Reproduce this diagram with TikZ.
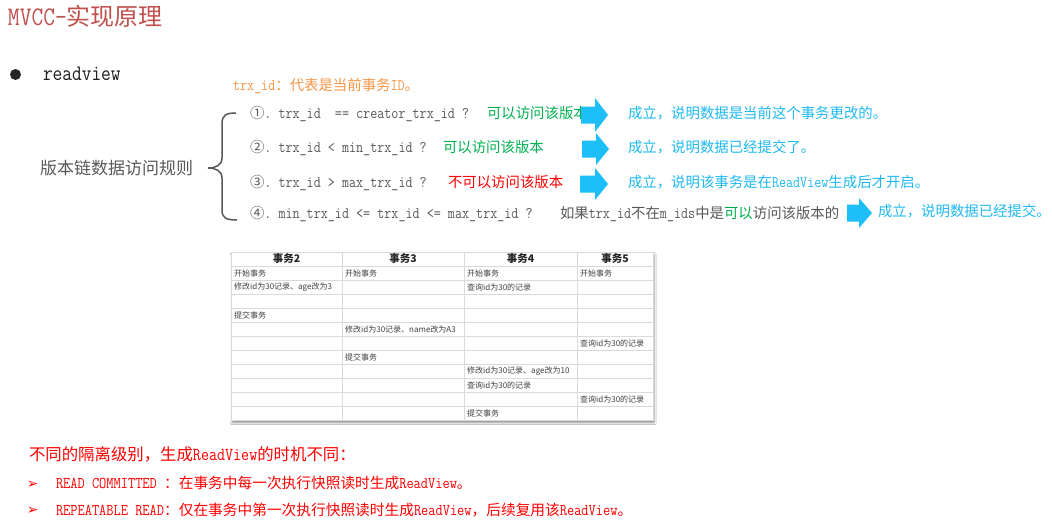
\documentclass[tikz,border=0pt]{standalone}
\usepackage{fontspec}
\setmainfont{Noto Sans CJK SC}
\newfontfamily\mono[Scale=1.12, FakeStretch=0.85]{Latin Modern Mono}
\newfontfamily\dejavu{DejaVu Sans}
\usetikzlibrary{shadows,shadows.blur,calc}
\definecolor{titlered}{RGB}{192,80,77}
\definecolor{orng}{RGB}{247,150,70}
\definecolor{gtxt}{RGB}{89,89,89}
\definecolor{grn}{RGB}{0,176,80}
\definecolor{rd}{RGB}{255,0,0}
\definecolor{blu}{RGB}{30,185,240}
\definecolor{arr}{RGB}{30,190,248}
\definecolor{gridc}{RGB}{218,218,218}
\definecolor{celltxt}{RGB}{64,64,64}
\newcommand\fs[1]{\fontsize{#1}{#1}\selectfont}
\newcommand\barrow[4]{% left x, center y, length, half height
  \fill[arr] (#1,#2-8.5) -- (#1+#3-13,#2-8.5) -- (#1+#3-13,#2-#4) -- (#1+#3,#2)
     -- (#1+#3-13,#2+#4) -- (#1+#3-13,#2+8.5) -- (#1,#2+8.5) -- cycle;}
\begin{document}
\begin{tikzpicture}[x=1pt,y=-1pt,
  txt/.style={inner sep=0pt, outer sep=0pt, anchor=base west},
  cell/.style={inner sep=0pt, anchor=west, font=\fs{8}, text=celltxt},
  headc/.style={inner sep=0pt, anchor=center, font=\fs{10.5}\bfseries, text=black!85}]
\useasboundingbox (0,0) rectangle (1052,522);
\fill[white] (0,0) rectangle (1052,522);

% title
\node[txt, text=titlered, font=\fs{24}] (title) at (8,25) {{\mono MVCC-}实现原理};
% bullet
\node[circle, fill=black!85, minimum size=11pt, inner sep=0pt] (bul) at (15.5,74.5) {};
\node[txt, font=\fs{19.8}\mono, text=black!88] (rv) at (43,80) {readview};

% trx_id line
\node[txt, text=orng, font=\fs{14.4}] (trx) at (233,90) {{\mono trx\_id}：代表是当前事务{\mono ID}。};

% rules label and brace
\node[txt, text=gtxt, font=\fs{17}] (rules) at (40,174.5) {版本链数据访问规则};
\draw[gtxt, line width=1.5pt] (236,113) .. controls (226,113) and (222,115) .. (222,124)
  -- (222,158) .. controls (222,165) and (216,168) .. (208,168)
  .. controls (216,168) and (222,171) .. (222,178)
  -- (222,210) .. controls (222,218) and (226,220) .. (237,220);

% line 1
\node[txt, text=gtxt, font=\fs{14.4}] (l1a) at (250,118) {①{\mono .~trx\_id~~==~creator\_trx\_id~?}};
\node[txt, text=grn, font=\fs{14.4}] (l1b) at (487,118) {可以访问该版本};
\node[txt, text=blu, font=\fs{14.4}] (l1c) at (628,118) {成立，说明数据是当前这个事务更改的。};
% line 2
\node[txt, text=gtxt, font=\fs{14.4}] (l2a) at (250,152) {②{\mono .~trx\_id~<~min\_trx\_id~?}};
\node[txt, text=grn, font=\fs{14.4}] (l2b) at (443,152) {可以访问该版本};
\node[txt, text=blu, font=\fs{14.4}] (l2c) at (628,152) {成立，说明数据已经提交了。};
% line 3
\node[txt, text=gtxt, font=\fs{14.4}] (l3a) at (250,187) {③{\mono .~trx\_id~>~max\_trx\_id~?}};
\node[txt, text=rd, font=\fs{14.4}] (l3b) at (448,187) {不可以访问该版本};
\node[txt, text=blu, font=\fs{14.4}] (l3c) at (628,187) {成立，说明该事务是在{\mono ReadView}生成后才开启。};
% line 4
\node[txt, text=gtxt, font=\fs{14.4}] (l4a) at (250,218) {④{\mono .~min\_trx\_id~<=~trx\_id~<=~max\_trx\_id~?}};
\node[txt, text=gtxt, font=\fs{14.4}] (l4b) at (560,218) {如果{\mono trx\_id}不在{\mono m\_ids}中是};
\node[txt, text=grn, font=\fs{14.4}] (l4c) at (l4b.base east) {可以};
\node[txt, text=gtxt, font=\fs{14.4}] (l4d) at (l4c.base east) {访问该版本的};
\node[txt, text=blu, font=\fs{14.4}] (l4e) at (878,216) {成立，说明数据已经提交。};

% block arrows
\barrow{581}{115}{27}{17}
\barrow{582}{149}{27}{16}
\barrow{580}{184}{28}{16}
\barrow{847}{213}{25}{15}

% table
\node[fill=white, draw=gridc, minimum width=422pt, minimum height=168pt, inner sep=0pt,
  anchor=north west, blur shadow={shadow xshift=1pt, shadow yshift=-2.5pt, shadow blur radius=2pt, shadow opacity=45}] (tbl) at (231,252) {};
\foreach \yy in {266,280,...,406} \draw[gridc] (231,\yy) -- (653,\yy);
\foreach \xx in {342,464,577} \draw[gridc] (\xx,252) -- (\xx,420);
\node[headc] (h2) at (286.5,259) {事务2};
\node[headc] (h3) at (403,259) {事务3};
\node[headc] (h4) at (520.5,259) {事务4};
\node[headc] (h5) at (615,259) {事务5};
\node[cell] (r1a) at (234,273) {开始事务};
\node[cell] (r1b) at (345,273) {开始事务};
\node[cell] (r1c) at (467,273) {开始事务};
\node[cell] (r1d) at (580,273) {开始事务};
\node[cell] (r2a) at (234,287) {修改id为30记录、age改为3};
\node[cell] (r2c) at (467,287) {查询id为30的记录};
\node[cell] (r4a) at (234,315) {提交事务};
\node[cell] (r5b) at (345,329) {修改id为30记录、name改为A3};
\node[cell] (r6d) at (580,343) {查询id为30的记录};
\node[cell] (r7b) at (345,357) {提交事务};
\node[cell] (r8c) at (467,371) {修改id为30记录、age改为10};
\node[cell] (r9c) at (467,385) {查询id为30的记录};
\node[cell] (r10d) at (580,399) {查询id为30的记录};
\node[cell] (r11c) at (467,413) {提交事务};

% bottom notes
\node[txt, text=rd, font=\fs{16.4}] (n0) at (29,460) {不同的隔离级别，生成{\mono ReadView}的时机不同：};
\node[txt, text=rd, font=\fs{14}\dejavu\bfseries] (b1) at (27,488) {➢};
\node[txt, text=rd, font=\fs{14.7}] (n1) at (56,488) {{\mono READ~COMMITTED~}：在事务中每一次执行快照读时生成{\mono ReadView}。};
\node[txt, text=rd, font=\fs{14}\dejavu\bfseries] (b2) at (27,514) {➢};
\node[txt, text=rd, font=\fs{14.7}] (n2) at (56,515) {{\mono REPEATABLE~READ}：仅在事务中第一次执行快照读时生成{\mono ReadView}，后续复用该{\mono ReadView}。};
\end{tikzpicture}
\end{document}
